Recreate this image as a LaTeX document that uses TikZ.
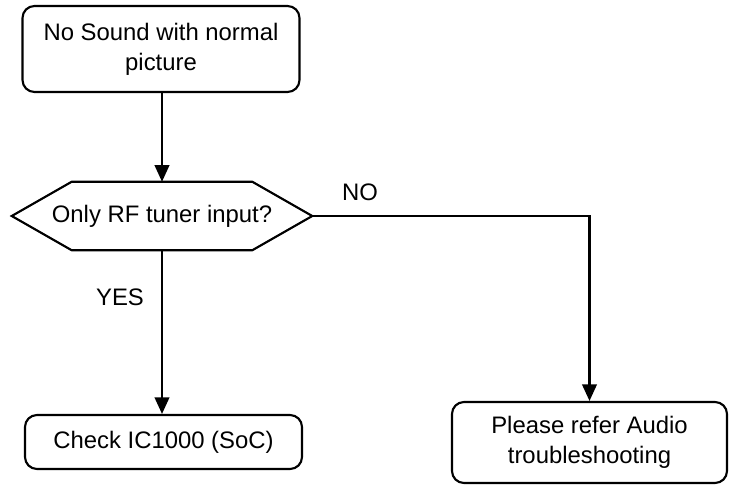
\documentclass[tikz,border=0pt]{standalone}
\usepackage{fontspec}
\setmainfont{Liberation Sans}
\usetikzlibrary{arrows.meta}
\begin{document}
\begin{tikzpicture}[x=0.75pt,y=-0.75pt,
  every node/.style={font=\fontsize{17.9}{22.5}\selectfont},
  rbox/.style={draw,line width=1.6pt,rounded corners=9pt,align=center,inner sep=0pt},
  conn/.style={line width=1.6pt,-{Triangle[length=12.5pt,width=11pt]}},
  lbl/.style={inner sep=0pt}]
\useasboundingbox (0,0) rectangle (736,486);
\node[rbox,minimum width=277*0.75pt,minimum height=86*0.75pt] (start) at (161,49) {No Sound with normal\\picture};
\node[inner sep=0pt,minimum width=300*0.75pt,minimum height=68*0.75pt] (dec) at (162,216) {Only RF tuner input?};
\draw[line width=1.6pt,line join=miter] (dec.west) -- ([xshift=45pt]dec.north west) -- ([xshift=-45pt]dec.north east) -- (dec.east) -- ([xshift=-45pt]dec.south east) -- ([xshift=45pt]dec.south west) -- cycle;
\node[rbox,minimum width=277*0.75pt,minimum height=54*0.75pt] (chk) at (163.5,442) {Check IC1000 (SoC)};
\node[rbox,minimum width=275*0.75pt,minimum height=81*0.75pt] (aud) at (589.5,442.5) {Please refer Audio\\troubleshooting};
\draw[conn] (start.south -| dec.north) -- (dec.north);
\draw[conn] (dec.south) -- (dec.south |- chk.north);
\draw[conn] (dec.east) -| (aud.north);
\node[lbl] (yes) at (120,297) {YES};
\node[lbl] (no) at (360,192) {NO};
\end{tikzpicture}
\end{document}
